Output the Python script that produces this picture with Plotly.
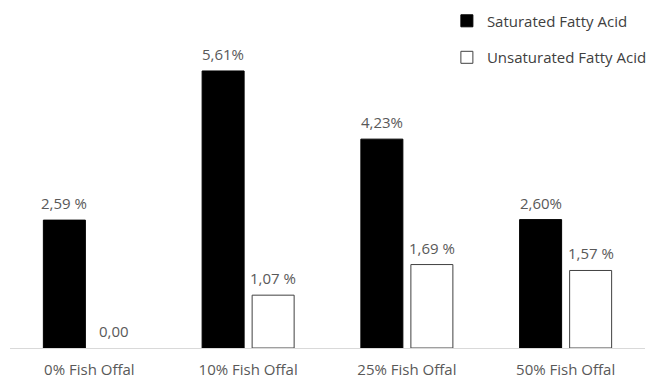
import plotly.graph_objects as go

categories = ["0% Fish Offal", "10% Fish Offal", "25% Fish Offal", "50% Fish Offal"]
saturated = [2.59, 5.61, 4.23, 2.60]
unsaturated = [0.00, 1.07, 1.69, 1.57]
saturated_labels = ["2,59 %", "5,61%", "4,23%", "2,60%"]
unsaturated_labels = ["0,00", "1,07 %", "1,69 %", "1,57 %"]

FONT = "Open Sans, Noto Sans, sans-serif"
GRAY = "#595959"
LEGEND_GRAY = "#404040"

fig = go.Figure()
fig.add_trace(go.Bar(
    x=categories, y=saturated, name="Saturated Fatty Acid",
    marker=dict(color="#000000", line=dict(color="#000000", width=1)),
    legendgroup="a",
))
# a zero-height bar is not drawn (no outline on the baseline)
fig.add_trace(go.Bar(
    x=categories, y=[v if v > 0 else None for v in unsaturated],
    name="Unsaturated Fatty Acid",
    marker=dict(color="#ffffff", line=dict(color="#404040", width=1)),
    legendgroup="b",
))

for cat, val, lab in zip(categories, saturated, saturated_labels):
    fig.add_annotation(x=cat, y=val, text=lab, showarrow=False,
                       xanchor="center", yanchor="bottom", xshift=-25, yshift=5,
                       font=dict(family=FONT, size=15, color=GRAY))
for cat, val, lab in zip(categories, unsaturated, unsaturated_labels):
    fig.add_annotation(x=cat, y=val, text=lab, showarrow=False,
                       xanchor="center", yanchor="bottom", xshift=25, yshift=5,
                       font=dict(family=FONT, size=15, color=GRAY))

fig.update_layout(
    width=648, height=379,
    margin=dict(l=10, r=3, t=30, b=31, autoexpand=False),
    paper_bgcolor="white", plot_bgcolor="white",
    barmode="group", bargap=0.37, bargroupgap=0.16,
    font=dict(family=FONT, size=15, color=GRAY),
    showlegend=True,
    legend=dict(
        x=0.688, y=1.08, xanchor="left", yanchor="top",
        traceorder="grouped", tracegroupgap=14,
        font=dict(family=FONT, size=15, color=LEGEND_GRAY),
        bgcolor="rgba(0,0,0,0)",
    ),
    xaxis=dict(
        showline=True, linecolor="#d9d9d9", linewidth=1, layer="above traces",
        ticks="", showgrid=False, ticklabelstandoff=8,
        tickfont=dict(family=FONT, size=15, color=GRAY),
    ),
    yaxis=dict(
        range=[0, 6.44], visible=False, showgrid=False, zeroline=False,
    ),
)

fig.write_html("out.html")
